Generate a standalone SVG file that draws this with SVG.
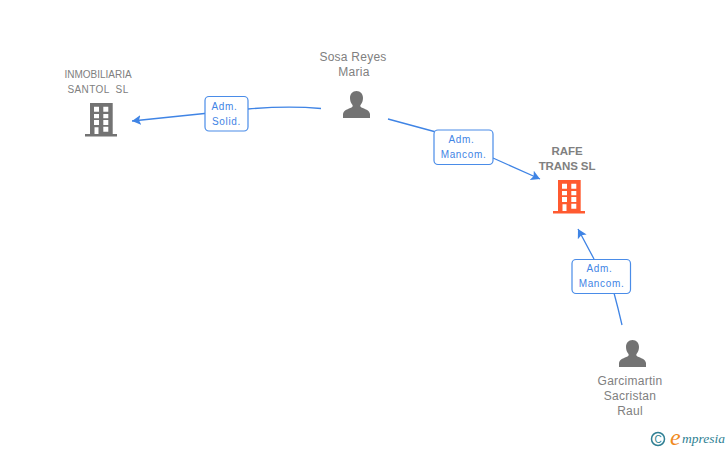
<svg xmlns="http://www.w3.org/2000/svg" width="728" height="450" viewBox="0 0 728 450">
<style>
text{font-family:"Liberation Sans",Arial,sans-serif}
.n{font-size:12px;fill:#808080;text-anchor:middle;letter-spacing:.25px}
.i{font-size:10px;letter-spacing:0;white-space:pre}
.s{letter-spacing:.4px}
.b{font-size:11.500px;font-weight:bold;letter-spacing:-.1px}
.l{font-size:10px;fill:#3f84e5;text-anchor:middle;letter-spacing:.65px}
.c{fill:none;stroke:#3f84e5;stroke-width:1.300}
.box{fill:#fff;stroke:#4a8ce8;stroke-width:1.200}
</style>
<defs>
<marker id="a" markerUnits="userSpaceOnUse" markerWidth="12" markerHeight="12" refX="9" refY="5" orient="auto"><path d="M0 0L9 5L0 10L2 5Z" fill="#3f84e5"/></marker>
<g id="person"><path d="M13.500 0c4 0 6.500 3 6.500 7 0 3-1 5-2.500 7-.5 1 0 2 1 2.500 3 1.500 8 2.500 8.500 6.500v4H0v-4c.5-4 5.500-5 8.500-6.500 1-.5 1.500-1.500 1-2.500C8 12 7 10 7 7c0-4 2.500-7 6.500-7z" fill="#737373"/></g>
<g id="bld"><path fill-rule="evenodd" d="M5 0H27.700V31H32V33.500H0V31H5ZM9 3.700V8.700H14V3.700ZM18.300 3.700V8.700H23.300V3.700ZM9 11V15.300H14V11ZM18.300 11V15.300H23.300V11ZM9 17V22H14V17ZM18.300 17V22H23.300V17ZM9.500 24.300V31H13.500V24.300ZM18.300 23.700V28.700H23.300V23.700Z"/></g>
</defs>
<g id="connectors">
<path class="c" marker-end="url(#a)" d="M321 108.500C295 106 270 107 248 109L132 121"/>
<path class="c" marker-end="url(#a)" d="M388 119L436 132M493 158L540 179"/>
<path class="c" marker-end="url(#a)" d="M622 325C619 312 617 304 614 293M594 259L578 229"/>
</g>
<g id="label1"><rect class="box" x="205" y="96.500" width="43" height="34.500" rx="4"/><text class="l" x="224.500" y="110">Adm.</text><text class="l" x="226.500" y="125">Solid.</text></g>
<g id="label2"><rect class="box" x="434" y="130" width="59" height="34.500" rx="4"/><text class="l" x="461.500" y="143">Adm.</text><text class="l" x="463.500" y="158">Mancom.</text></g>
<g id="label3"><rect class="box" x="572" y="259.500" width="58.500" height="34" rx="4"/><text class="l" x="599.500" y="272">Adm.</text><text class="l" x="601.500" y="287">Mancom.</text></g>
<g id="node-inmobiliaria"><text class="n i" x="98" y="78">INMOBILIARIA</text><text class="n i s" x="98" y="93">SANTOL  SL</text><use href="#bld" x="85" y="103" fill="#737373"/></g>
<g id="node-sosa"><text class="n" x="353" y="61">Sosa Reyes</text><text class="n" x="354" y="76">Maria</text><use href="#person" x="343" y="91"/></g>
<g id="node-rafe"><text class="n b" x="567" y="155">RAFE</text><text class="n b" x="567" y="170">TRANS SL</text><use href="#bld" x="553" y="180" fill="#ff5a30"/></g>
<g id="node-garcimartin"><text class="n" x="630" y="385">Garcimartin</text><text class="n" x="630" y="400">Sacristan</text><text class="n" x="630" y="415">Raul</text><use href="#person" x="619" y="340"/></g>
<g id="brand"><circle cx="658" cy="439" r="6.500" fill="none" stroke="#2f7f93" stroke-width="1.500"/><text x="658" y="442.500" font-size="10" fill="#2f7f93" text-anchor="middle">C</text><text x="670" y="445" style="font-family:'Liberation Serif',serif" font-size="24" font-style="italic" fill="#f08a1d">e</text><text x="682" y="443" style="font-family:'Liberation Serif',serif" font-size="13.500" font-style="italic" fill="#2f7f93">mpresia</text></g>
</svg>
